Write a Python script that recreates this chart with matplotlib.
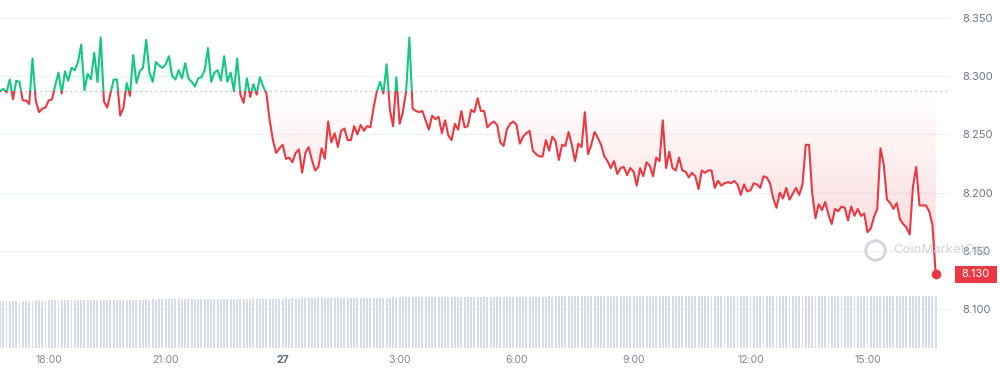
import numpy as np
import pandas as pd
import matplotlib.pyplot as plt
import matplotlib.dates as mdates
import matplotlib.transforms as mtransforms
from matplotlib.patches import Rectangle

plt.rcParams['font.family'] = ['Inter', 'DejaVu Sans']

# 5-minute price samples over 24h
price = [
    8.287, 8.289, 8.286, 8.297, 8.280, 8.296, 8.295, 8.279, 8.279, 8.276, 8.315, 8.279,
    8.269, 8.272, 8.273, 8.279, 8.280, 8.292, 8.303, 8.285, 8.304, 8.296, 8.307, 8.305,
    8.312, 8.327, 8.288, 8.302, 8.297, 8.320, 8.295, 8.333, 8.278, 8.273, 8.285, 8.297,
    8.297, 8.266, 8.273, 8.294, 8.283, 8.318, 8.294, 8.304, 8.307, 8.331, 8.303, 8.295,
    8.312, 8.309, 8.307, 8.310, 8.317, 8.300, 8.297, 8.305, 8.298, 8.311, 8.298, 8.295,
    8.291, 8.298, 8.299, 8.305, 8.324, 8.295, 8.303, 8.305, 8.296, 8.317, 8.295, 8.303,
    8.287, 8.315, 8.284, 8.277, 8.298, 8.282, 8.293, 8.284, 8.299, 8.291, 8.285, 8.262,
    8.245, 8.234, 8.238, 8.241, 8.229, 8.230, 8.226, 8.234, 8.237, 8.217, 8.234, 8.239,
    8.228, 8.219, 8.222, 8.238, 8.229, 8.261, 8.243, 8.251, 8.239, 8.253, 8.255, 8.245,
    8.245, 8.257, 8.250, 8.258, 8.253, 8.257, 8.256, 8.273, 8.287, 8.295, 8.285, 8.310,
    8.271, 8.257, 8.299, 8.259, 8.269, 8.287, 8.333, 8.272, 8.270, 8.269, 8.270, 8.262,
    8.254, 8.266, 8.263, 8.265, 8.251, 8.262, 8.249, 8.245, 8.259, 8.254, 8.270, 8.256,
    8.257, 8.271, 8.269, 8.281, 8.270, 8.270, 8.256, 8.259, 8.261, 8.258, 8.243, 8.240,
    8.254, 8.259, 8.261, 8.258, 8.242, 8.248, 8.251, 8.253, 8.236, 8.233, 8.231, 8.231,
    8.245, 8.236, 8.248, 8.244, 8.228, 8.241, 8.240, 8.252, 8.241, 8.227, 8.242, 8.239,
    8.269, 8.233, 8.241, 8.252, 8.247, 8.241, 8.231, 8.227, 8.221, 8.227, 8.216, 8.221,
    8.222, 8.215, 8.221, 8.218, 8.206, 8.221, 8.214, 8.226, 8.223, 8.214, 8.230, 8.227,
    8.262, 8.221, 8.235, 8.221, 8.219, 8.230, 8.219, 8.218, 8.213, 8.217, 8.214, 8.203,
    8.219, 8.217, 8.219, 8.219, 8.204, 8.210, 8.206, 8.208, 8.209, 8.208, 8.210, 8.207,
    8.198, 8.207, 8.201, 8.202, 8.208, 8.207, 8.204, 8.214, 8.213, 8.208, 8.195, 8.187,
    8.200, 8.195, 8.204, 8.194, 8.199, 8.204, 8.198, 8.207, 8.241, 8.241, 8.199, 8.178,
    8.190, 8.185, 8.192, 8.181, 8.173, 8.186, 8.184, 8.188, 8.187, 8.176, 8.188, 8.180,
    8.186, 8.180, 8.182, 8.166, 8.169, 8.179, 8.186, 8.238, 8.224, 8.194, 8.191, 8.186,
    8.191, 8.177, 8.173, 8.170, 8.164, 8.205, 8.222, 8.189, 8.189, 8.189, 8.184, 8.172,
    8.130,
]

# 24h volume behind each sample (millions)
volume = [
    460, 461, 460, 462, 461, 460, 461, 462, 462, 461, 462, 463,
    463, 462, 463, 464, 463, 464, 465, 464, 465, 466, 465, 466,
    467, 466, 467, 468, 468, 467, 468, 469, 468, 469, 470, 469,
    470, 471, 470, 471, 472, 471, 472, 471, 472, 473, 472, 473,
    472, 473, 474, 473, 474, 473, 474, 475, 474, 475, 474, 475,
    475, 476, 475, 476, 477, 476, 477, 476, 477, 478, 477, 478,
    478, 479, 478, 479, 478, 479, 480, 479, 480, 481, 480, 481,
    481, 482, 481, 482, 483, 482, 483, 482, 483, 484, 483, 484,
    484, 485, 486, 485, 486, 487, 486, 487, 488, 487, 488, 489,
    488, 489, 490, 489, 490, 489, 490, 491, 490, 491, 490, 491,
    491, 492, 491, 492, 493, 492, 493, 492, 493, 494, 493, 494,
    494, 495, 494, 495, 494, 495, 496, 495, 496, 495, 496, 497,
    496, 497, 496, 497, 498, 497, 498, 497, 498, 499, 498, 499,
    498, 499, 500, 499, 500, 499, 500, 501, 500, 501, 500, 501,
    501, 502, 501, 502, 503, 502, 503, 502, 503, 504, 503, 504,
    503, 504, 503, 504, 505, 504, 505, 504, 505, 506, 505, 506,
    505, 506, 505, 506, 507, 506, 507, 506, 507, 508, 507, 508,
    507, 508, 507, 508, 509, 508, 509, 508, 509, 510, 509, 510,
    509, 510, 509, 510, 511, 510, 511, 510, 511, 510, 511, 511,
    510, 511, 510, 511, 510, 511, 510, 511, 510, 511, 510, 511,
    510, 511, 510, 511, 511, 510, 511, 510, 511, 510, 511, 511,
    511, 510, 511, 510, 511, 511, 510, 511, 510, 511, 511, 510,
    511, 510, 511, 511, 510, 511, 510, 511, 511, 510, 511, 510,
    511, 511, 510, 511, 510, 511, 511, 510, 511, 510, 511, 511,
    511,
]

baseline = 8.287
times = pd.date_range("2024-06-26 16:45", periods=len(price), freq="5min")
ytick_vals = [8.100, 8.150, 8.200, 8.250, 8.300, 8.350]
xtick_times = ["2024-06-26 18:00", "2024-06-26 21:00", "2024-06-27 00:00", "2024-06-27 03:00",
               "2024-06-27 06:00", "2024-06-27 09:00", "2024-06-27 12:00", "2024-06-27 15:00"]
xtick_labels = ["18:00", "21:00", "27", "3:00", "6:00", "9:00", "12:00", "15:00"]

green = "#16c784"
red = "#ea3943"
ymin, ymax = 8.0667, 8.3652

x = mdates.date2num(times)
p = np.array(price)
xlim = (x[0], mdates.date2num(pd.Timestamp("2024-06-27 17:07")))

fig = plt.figure(figsize=(10, 3.72), dpi=100)
ax = fig.add_axes([0, 0.0645, 0.95, 0.9355])

# volume bars on a twin axis (created first so the price ticks stay on the right)
axv = ax.twinx()
axv.bar(x, volume, width=3.0 / 1440, color="#d5dbe7", align="center", lw=0)
axv.set_ylim(0, 3390)
axv.axis("off")


def gradient_fill(lower, upper, rgb, y0, y1, a0, a1):
    poly = ax.fill_between(x, lower, upper, facecolor="none", edgecolor="none")
    grad = np.zeros((100, 1, 4))
    grad[..., :3] = rgb
    grad[:, 0, 3] = np.linspace(a0, a1, 100)
    im = ax.imshow(grad, extent=[x[0], x[-1], y0, y1], origin="lower",
                   aspect="auto", zorder=1, interpolation="bilinear")
    im.set_clip_path(poly.get_paths()[0], transform=ax.transData)


red_rgb = np.array([234, 57, 67]) / 255
green_rgb = np.array([22, 199, 132]) / 255
gradient_fill(np.minimum(p, baseline), baseline, red_rgb, 8.13, baseline, 0.22, 0.0)
gradient_fill(baseline, np.maximum(p, baseline), green_rgb, baseline, 8.335, 0.0, 0.14)

# price line, green above the open and red below it
ln_r, = ax.plot(x, p, color=red, lw=1.5, zorder=3, solid_joinstyle="round")
ln_g, = ax.plot(x, p, color=green, lw=1.5, zorder=3, solid_joinstyle="round")
ln_r.set_clip_path(Rectangle((x[0] - 1, ymin), 3, baseline - ymin, transform=ax.transData))
ln_g.set_clip_path(Rectangle((x[0] - 1, baseline), 3, ymax - baseline, transform=ax.transData))

ax.axhline(baseline, color="#a6b0c3", lw=0.9, ls=(0, (1, 3)), zorder=2)
ax.plot(x[-1], p[-1], "o", color=red, ms=6, zorder=4)

ax.set_xlim(*xlim)
axv.set_xlim(*xlim)
ax.set_ylim(ymin, ymax)
ax.set_yticks(ytick_vals)
ax.set_yticklabels([f"{v:.3f}" for v in ytick_vals])
ax.yaxis.tick_right()
ax.tick_params(axis="y", length=0, pad=9, labelsize=8, labelcolor="#6b7587")
ax.set_xticks(mdates.date2num(pd.to_datetime(xtick_times)))
ax.set_xticklabels(xtick_labels)
ax.tick_params(axis="x", length=0, pad=5, labelsize=7.5, labelcolor="#7d8797")
for lbl in ax.get_xticklabels():
    if lbl.get_text() == "27":
        lbl.set_fontweight("bold")
        lbl.set_color("#58667e")
ax.grid(axis="y", color="#eff2f5", lw=1)
ax.set_axisbelow(True)
for s in ax.spines.values():
    s.set_visible(False)

# current price tag
trans = mtransforms.blended_transform_factory(ax.transAxes, ax.transData)
ax.add_patch(Rectangle((955 / 950, p[-1] - 0.0073), 42 / 950, 0.0146, transform=trans,
                       facecolor=red, edgecolor="none", clip_on=False, zorder=5))
ax.text(976 / 950, p[-1], f"{p[-1]:.3f}", transform=trans, ha="center", va="center",
        color="white", fontsize=8, zorder=6, clip_on=False)

# watermark
fig.text(0.893, 0.328, "CoinMarketCap", fontsize=9.5, color="#c9ced7", va="center",
         ha="left", alpha=0.85)
ax.plot([0.875], [0.328], marker="o", ms=14, mfc="none", mec="#c9ced7", mew=2,
        transform=fig.transFigure, clip_on=False, alpha=0.85)

fig.savefig("out.png", dpi=100)
